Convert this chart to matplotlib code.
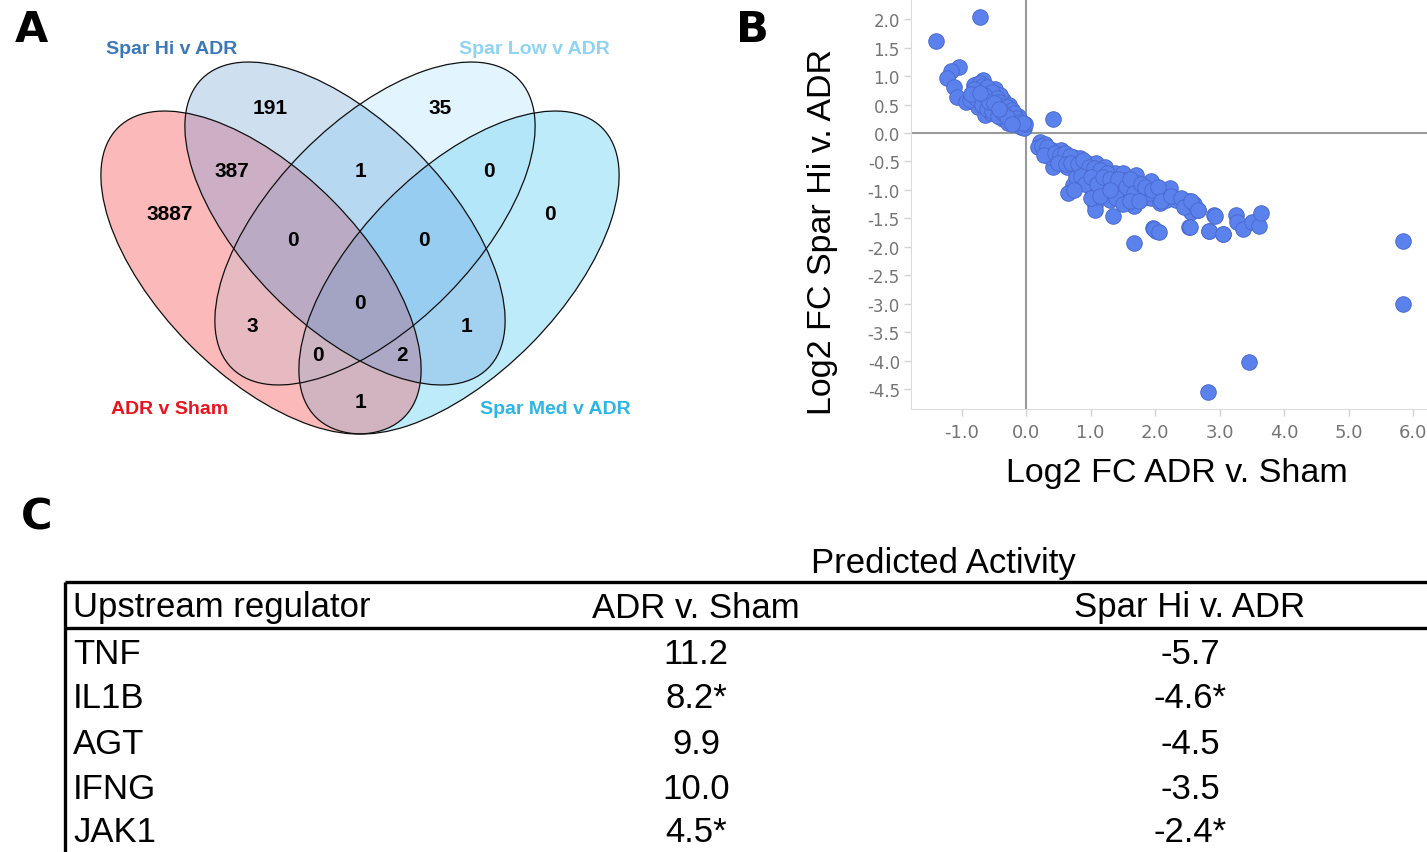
import numpy as np
import matplotlib.pyplot as plt
from matplotlib.patches import Ellipse

plt.rcParams['axes.unicode_minus'] = False

# Venn: four comparisons and the counts in each region
set_names = ['ADR v Sham', 'Spar Hi v ADR', 'Spar Low v ADR', 'Spar Med v ADR']
name_colors = ['#e8141c', '#3b78b8', '#8fd3f2', '#2bb5e8']
region_counts = [191, 35, 387, 1, 0, 3887, 0, 0, 0, 0, 3, 1, 0, 2, 1]

# scatter: log2 fold changes of the shared genes
fc_adr_sham = [
    -0.71, -1.40, -1.04, -1.17, -1.23, -1.12, -1.07, -0.93, -0.76, -0.71,
    -0.56, -0.51, -0.74, -0.63, -0.48, -0.35, -0.27, -0.25, -0.17, -0.14,
    -0.07, -0.40, -0.81, -0.61, -0.87, -0.45, -0.32, -0.56, -0.20, -0.09,
    -0.66, -0.48, -0.40, -0.70, -0.62, -0.35, -0.28, -0.03, -0.12, -0.55,
    -0.78, -0.02,
    -0.80, -0.72, -0.68, -0.60, -0.52, -0.45, -0.42, -0.38, -0.30, -0.22,
    -0.18, -0.15, -0.10, -0.05, -0.68, -0.60, -0.52, -0.44, -0.36, -0.30,
    -0.22, -0.80, -0.65, -0.58, -0.50, -0.42, -0.85, -0.72,
    0.42,
    0.22, 0.19, 0.29, 0.40, 0.42, 0.37, 0.55, 0.58, 0.73, 0.73,
    0.83, 0.94, 0.94, 1.09, 1.22, 1.14, 0.73, 0.65, 1.02, 1.22,
    1.07, 1.07, 1.30, 1.35, 1.38, 1.50, 1.45, 1.61, 1.71, 1.74,
    1.56, 1.68, 1.87, 1.94, 1.94, 2.07, 2.17, 2.23, 2.33, 2.02,
    2.53, 2.56, 2.66, 2.92, 1.97, 2.02, 2.53, 2.83, 3.05, 1.68,
    0.83, 1.04, 1.19, 1.35, 1.53, 1.81, 2.12, 0.47, 0.63, 0.78,
    0.94, 1.09, 1.45, 0.30, 0.50, 0.88, 1.28, 1.60, 1.90, 0.35,
    0.25, 0.32, 0.28, 0.45, 0.52, 0.60, 0.68, 0.50, 0.62, 0.70,
    0.80, 0.88, 0.98, 1.05, 1.15, 1.25, 0.85, 0.92, 1.00, 1.10,
    1.20, 1.30, 1.42, 1.55, 1.62, 1.68, 1.78, 1.85, 1.95, 2.05,
    2.10, 2.25, 2.40, 1.40, 1.50, 1.62, 1.75, 1.00, 1.15, 0.75,
    1.30, 2.45, 2.60,
    3.26, 3.27, 3.36, 3.51, 3.62, 3.64, 2.93, 2.84, 3.06, 2.55,
    2.56, 2.66, 1.99, 2.06,
    5.84, 5.84, 3.45, 2.82,
]
fc_sparhi_adr = [
    2.04, 1.62, 1.16, 1.09, 0.96, 0.80, 0.63, 0.55, 0.87, 0.77,
    0.75, 0.64, 0.45, 0.32, 0.45, 0.58, 0.49, 0.32, 0.32, 0.17,
    0.11, 0.29, 0.72, 0.58, 0.58, 0.35, 0.40, 0.46, 0.23, 0.23,
    0.93, 0.78, 0.67, 0.62, 0.70, 0.25, 0.18, 0.08, 0.30, 0.35,
    0.62, 0.15,
    0.85, 0.88, 0.82, 0.80, 0.72, 0.62, 0.55, 0.48, 0.45, 0.40,
    0.36, 0.26, 0.20, 0.18, 0.50, 0.42, 0.38, 0.30, 0.36, 0.28,
    0.15, 0.78, 0.66, 0.55, 0.52, 0.42, 0.68, 0.70,
    0.24,
    -0.15, -0.24, -0.30, -0.30, -0.59, -0.42, -0.30, -0.47, -0.42, -0.62,
    -0.44, -0.53, -0.71, -0.53, -0.59, -0.77, -0.91, -1.06, -1.00, -0.94,
    -1.26, -1.35, -1.18, -1.46, -0.71, -0.71, -0.91, -1.00, -0.74, -0.88,
    -1.18, -1.29, -1.12, -0.85, -1.15, -1.23, -1.18, -0.97, -1.18, -1.06,
    -1.20, -1.38, -1.35, -1.44, -1.67, -1.73, -1.65, -1.72, -1.77, -1.94,
    -0.65, -0.88, -0.82, -0.88, -0.82, -1.00, -1.12, -0.42, -0.59, -0.77,
    -0.82, -1.12, -1.06, -0.20, -0.50, -0.65, -0.95, -1.10, -1.05, -0.35,
    -0.22, -0.25, -0.38, -0.35, -0.38, -0.35, -0.40, -0.52, -0.55, -0.52,
    -0.55, -0.48, -0.60, -0.62, -0.65, -0.70, -0.75, -0.90, -0.78, -0.90,
    -0.78, -0.80, -0.80, -0.95, -0.80, -1.05, -0.90, -0.95, -1.00, -0.95,
    -1.20, -1.10, -1.15, -1.15, -1.25, -1.20, -1.20, -1.15, -1.10, -1.00,
    -1.00, -1.30, -1.25,
    -1.44, -1.56, -1.68, -1.56, -1.63, -1.41, -1.45, -1.72, -1.77, -1.66,
    -1.20, -1.35, -1.68, -1.74,
    -1.90, -3.00, -4.02, -4.56,
]

# IPA upstream regulators, predicted activity z-scores
regulators = ['TNF', 'IL1B', 'AGT', 'IFNG', 'JAK1']
z_adr_sham = [11.2, 8.2, 9.9, 10.0, 4.5]
z_sparhi_adr = [-5.7, -4.6, -4.5, -3.5, -2.4]
starred = [False, True, False, False, True]

W, H = 1427, 853
fig = plt.figure(figsize=(W / 100, H / 100), dpi=100)

# background axes in pixel units for the venn, table and panel letters
ax0 = fig.add_axes([0, 0, 1, 1])
ax0.set_xlim(0, W)
ax0.set_ylim(H, 0)
ax0.axis('off')

# --- A: venn ---
centers = [(261, 273.5), (345, 224.5), (375, 224.5), (459, 273.5)]
angles = [45.4, 45.4, -45.4, -45.4]
ea, eb = 203.5, 101.5

# fill colour per region, keyed by membership (ADR, Hi, Low, Med)
fill = {
    (1, 0, 0, 0): (252, 185, 185), (0, 1, 0, 0): (206, 223, 240),
    (0, 0, 1, 0): (226, 244, 253), (0, 0, 0, 1): (190, 235, 250),
    (1, 1, 0, 0): (205, 175, 197), (1, 0, 1, 0): (231, 185, 193),
    (1, 0, 0, 1): (210, 180, 192), (0, 1, 1, 0): (182, 216, 240),
    (0, 1, 0, 1): (163, 210, 240), (0, 0, 1, 1): (180, 230, 250),
    (1, 1, 1, 0): (186, 170, 195), (1, 1, 0, 1): (172, 168, 198),
    (1, 0, 1, 1): (205, 180, 195), (0, 1, 1, 1): (150, 205, 240),
    (1, 1, 1, 1): (163, 164, 195),
}
x0, x1, y0, y1 = 90, 630, 50, 445
gx, gy = np.meshgrid(np.arange(x0, x1) + 0.5, np.arange(y0, y1) + 0.5)
inside = []
for (cx, cy), ang in zip(centers, angles):
    t = np.deg2rad(ang)
    u = (gx - cx) * np.cos(t) + (gy - cy) * np.sin(t)
    v = -(gx - cx) * np.sin(t) + (gy - cy) * np.cos(t)
    inside.append((u / ea) ** 2 + (v / eb) ** 2 <= 1)
img = np.zeros(gx.shape + (4,))
for key, rgb in fill.items():
    m = np.ones(gx.shape, bool)
    for k, flag in zip(inside, key):
        m &= k if flag else ~k
    img[m] = [rgb[0] / 255, rgb[1] / 255, rgb[2] / 255, 1]
ax0.imshow(img, extent=(x0, x1, y1, y0), origin='upper', interpolation='nearest', aspect='auto')
for c, ang in zip(centers, angles):
    ax0.add_patch(Ellipse(c, 2 * ea, 2 * eb, angle=ang, facecolor='none',
                          edgecolor='#101010', lw=0.9))
ax0.set_xlim(0, W)
ax0.set_ylim(H, 0)

count_pos = [(270, 108), (440, 108), (232, 171), (360, 171), (489, 171), (170, 214),
             (550, 214), (293, 240), (424, 240), (360, 303), (252, 326), (466, 326),
             (318, 355), (402, 355), (360, 402)]
for (x, y), n in zip(count_pos, region_counts):
    ax0.text(x, y, str(n), ha='center', va='center', fontsize=15,
             fontweight='bold', family='Liberation Sans')

name_pos = [(170, 409), (172, 49), (534, 49), (555, 409)]
for (x, y), name, col in zip(name_pos, set_names, name_colors):
    ax0.text(x, y, name, ha='center', va='center', fontsize=14, fontweight='bold',
             color=col, family='Liberation Sans')

for letter, (x, y) in zip('ABC', [(31, 30), (752, 30), (37, 517)]):
    ax0.text(x, y, letter, ha='center', va='center', fontsize=31,
             fontweight='bold', family='DejaVu Sans')

# --- B: scatter ---
ax = fig.add_axes([911 / W, (H - 410) / H, (W - 911) / W, 410 / H])
ax.scatter(fc_adr_sham, fc_sparhi_adr, s=125, facecolor='#5b82ec',
           edgecolor='#4a6ad0', linewidth=0.7, zorder=3)
ax.axhline(0, color='#9a9a9a', lw=1.5, zorder=1)
ax.axvline(0, color='#9a9a9a', lw=1.5, zorder=1)
ax.set_xlim(-1.783, 6.217)
ax.set_ylim(-4.85, 2.355)
ax.set_xticks(np.arange(-1, 6.5, 1.0))
ax.set_yticks(np.arange(-4.5, 2.5, 0.5))
ax.set_xticklabels(['%.1f' % v for v in np.arange(-1, 6.5, 1.0)])
ax.set_yticklabels(['%.1f' % v for v in np.arange(-4.5, 2.5, 0.5)])
ax.tick_params(colors='#d4d4d4', labelcolor='#747474', length=5, width=1)
ax.tick_params(axis='x', labelsize=13, pad=5)
ax.tick_params(axis='y', labelsize=12, pad=3)
for side in ['top', 'right']:
    ax.spines[side].set_visible(False)
for side in ['left', 'bottom']:
    ax.spines[side].set_color('#dcdcdc')
ax.set_xlabel('Log2 FC ADR v. Sham', fontsize=24.5, family='Liberation Sans')
ax.set_ylabel('Log2 FC Spar Hi v. ADR', fontsize=24.5, family='Liberation Sans')
ax.xaxis.set_label_coords((1177 - 911) / (W - 911), (410 - 474) / 410)
ax.yaxis.set_label_coords((823 - 911) / (W - 911), (410 - 232) / 410)
ax.xaxis.label.set_va('center')
ax.yaxis.label.set_va('center')

# --- C: table ---
tfont = dict(fontsize=25, family='Liberation Sans', va='center')
ax0.plot([65, W], [583, 583], color='black', lw=2.4, solid_capstyle='butt')
ax0.plot([65, W], [629, 629], color='black', lw=2.4, solid_capstyle='butt')
ax0.plot([65, 65], [583, H], color='black', lw=2.4, solid_capstyle='butt')
ax0.text(943, 563, 'Predicted Activity', ha='center', **tfont)
ax0.text(73, 608, 'Upstream regulator', ha='left', **tfont)
ax0.text(696, 608, 'ADR v. Sham', ha='center', **tfont)
ax0.text(1190, 608, 'Spar Hi v. ADR', ha='center', **tfont)
row_y = [655, 699, 745, 790, 833]
for y, reg, a, b, st in zip(row_y, regulators, z_adr_sham, z_sparhi_adr, starred):
    mark = '*' if st else ''
    ax0.text(73, y, reg, ha='left', **tfont)
    ax0.text(696, y, '%.1f%s' % (a, mark), ha='center', **tfont)
    ax0.text(1190, y, '%.1f%s' % (b, mark), ha='center', **tfont)

fig.savefig('out.png', dpi=100)
